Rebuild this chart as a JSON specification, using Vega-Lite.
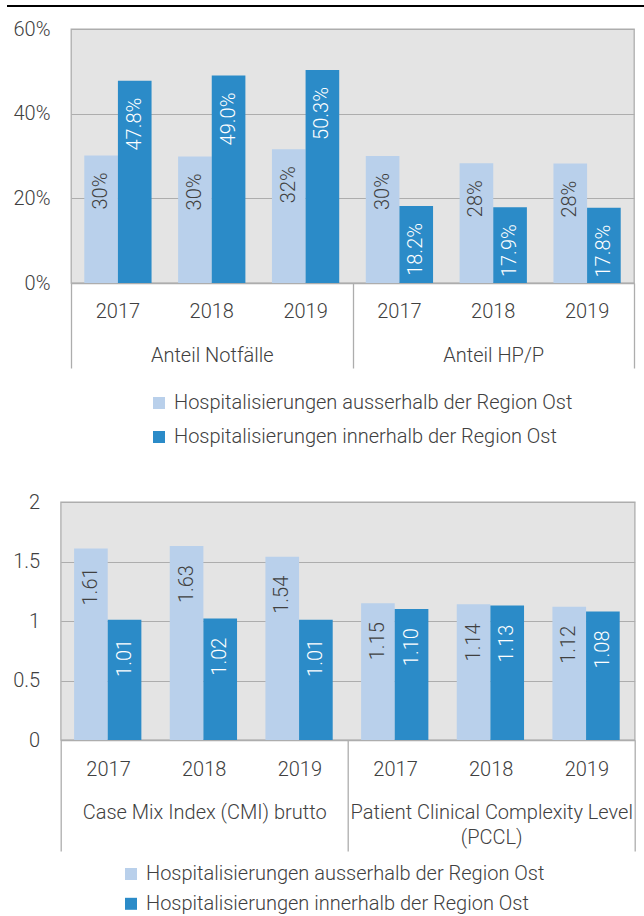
{
  "$schema": "https://vega.github.io/schema/vega-lite/v6.json",
  "background": "white",
  "padding": {"left": 6, "top": 5, "right": 0, "bottom": 0},
  "datasets": {
    "top": [
      {"cat": "Anteil Notfälle", "slot": "Anteil Notfälle 2017", "series": "Hospitalisierungen ausserhalb der Region Ost", "value": 0.301},
      {"cat": "Anteil Notfälle", "slot": "Anteil Notfälle 2017", "series": "Hospitalisierungen innerhalb der Region Ost", "value": 0.478},
      {"cat": "Anteil Notfälle", "slot": "Anteil Notfälle 2018", "series": "Hospitalisierungen ausserhalb der Region Ost", "value": 0.299},
      {"cat": "Anteil Notfälle", "slot": "Anteil Notfälle 2018", "series": "Hospitalisierungen innerhalb der Region Ost", "value": 0.490},
      {"cat": "Anteil Notfälle", "slot": "Anteil Notfälle 2019", "series": "Hospitalisierungen ausserhalb der Region Ost", "value": 0.316},
      {"cat": "Anteil Notfälle", "slot": "Anteil Notfälle 2019", "series": "Hospitalisierungen innerhalb der Region Ost", "value": 0.503},
      {"cat": "Anteil HP/P", "slot": "Anteil HP/P 2017", "series": "Hospitalisierungen ausserhalb der Region Ost", "value": 0.300},
      {"cat": "Anteil HP/P", "slot": "Anteil HP/P 2017", "series": "Hospitalisierungen innerhalb der Region Ost", "value": 0.182},
      {"cat": "Anteil HP/P", "slot": "Anteil HP/P 2018", "series": "Hospitalisierungen ausserhalb der Region Ost", "value": 0.283},
      {"cat": "Anteil HP/P", "slot": "Anteil HP/P 2018", "series": "Hospitalisierungen innerhalb der Region Ost", "value": 0.179},
      {"cat": "Anteil HP/P", "slot": "Anteil HP/P 2019", "series": "Hospitalisierungen ausserhalb der Region Ost", "value": 0.282},
      {"cat": "Anteil HP/P", "slot": "Anteil HP/P 2019", "series": "Hospitalisierungen innerhalb der Region Ost", "value": 0.178}
    ],
    "bottom": [
      {"cat": "Case Mix Index (CMI) brutto", "slot": "CMI 2017", "series": "Hospitalisierungen ausserhalb der Region Ost", "value": 1.61},
      {"cat": "Case Mix Index (CMI) brutto", "slot": "CMI 2017", "series": "Hospitalisierungen innerhalb der Region Ost", "value": 1.01},
      {"cat": "Case Mix Index (CMI) brutto", "slot": "CMI 2018", "series": "Hospitalisierungen ausserhalb der Region Ost", "value": 1.63},
      {"cat": "Case Mix Index (CMI) brutto", "slot": "CMI 2018", "series": "Hospitalisierungen innerhalb der Region Ost", "value": 1.02},
      {"cat": "Case Mix Index (CMI) brutto", "slot": "CMI 2019", "series": "Hospitalisierungen ausserhalb der Region Ost", "value": 1.54},
      {"cat": "Case Mix Index (CMI) brutto", "slot": "CMI 2019", "series": "Hospitalisierungen innerhalb der Region Ost", "value": 1.01},
      {"cat": "Patient Clinical Complexity Level (PCCL)", "slot": "PCCL 2017", "series": "Hospitalisierungen ausserhalb der Region Ost", "value": 1.15},
      {"cat": "Patient Clinical Complexity Level (PCCL)", "slot": "PCCL 2017", "series": "Hospitalisierungen innerhalb der Region Ost", "value": 1.10},
      {"cat": "Patient Clinical Complexity Level (PCCL)", "slot": "PCCL 2018", "series": "Hospitalisierungen ausserhalb der Region Ost", "value": 1.14},
      {"cat": "Patient Clinical Complexity Level (PCCL)", "slot": "PCCL 2018", "series": "Hospitalisierungen innerhalb der Region Ost", "value": 1.13},
      {"cat": "Patient Clinical Complexity Level (PCCL)", "slot": "PCCL 2019", "series": "Hospitalisierungen ausserhalb der Region Ost", "value": 1.12},
      {"cat": "Patient Clinical Complexity Level (PCCL)", "slot": "PCCL 2019", "series": "Hospitalisierungen innerhalb der Region Ost", "value": 1.08}
    ],
    "line": [{"a": 0, "b": 1}],
    "empty": []
  },
  "spacing": 11,
  "vconcat": [
    {
      "width": 638,
      "height": 1,
      "view": {"fill": null, "stroke": null},
      "data": {"name": "line"},
      "mark": {"type": "rule", "color": "black", "strokeWidth": 2},
      "encoding": {
        "x": {"field": "a", "type": "quantitative", "scale": {"domain": [0, 1]}, "axis": null},
        "x2": {"field": "b"},
        "y": {"datum": 0, "type": "quantitative", "scale": {"domain": [0, 1]}, "axis": null}
      }
    },
    {
      "spacing": 44,
      "resolve": {"scale": {"color": "independent"}, "legend": {"color": "independent"}},
      "vconcat": [
        {
          "spacing": 63,
          "bounds": "flush",
          "hconcat": [
            {
              "width": 1,
              "height": 1,
              "view": {"fill": null, "stroke": null},
              "data": {"name": "empty"},
              "mark": {"type": "point", "opacity": 0}
            },
            {
              "width": 563,
              "height": 254,
              "data": {"name": "top"},
              "resolve": {"scale": {"x": "independent"}, "axis": {"x": "independent"}},
              "layer": [
                {
                  "encoding": {
                    "x": {"field": "slot", "type": "nominal", "sort": null, "title": null,
                      "scale": {"type": "band", "paddingInner": 0.283, "paddingOuter": 0.1415},
                      "axis": {"orient": "bottom", "labelExpr": "slice(datum.value, -4)", "labelAngle": 0, "ticks": false, "labelPadding": 18, "domainColor": "#ADADAD", "domainWidth": 1.3, "grid": false}},
                    "xOffset": {"field": "series", "type": "nominal", "scale": {"domain": ["Hospitalisierungen ausserhalb der Region Ost", "Hospitalisierungen innerhalb der Region Ost"], "paddingInner": 0, "paddingOuter": 0}},
                    "y": {"field": "value", "type": "quantitative", "title": null,
                      "scale": {"domain": [0, 0.6]},
                      "axis": {"format": ".0%", "values": [0, 0.2, 0.4, 0.6], "ticks": false, "domain": false, "labelPadding": 21, "grid": true, "gridColor": "#ADADAD", "gridWidth": 1.2}}
                  },
                  "layer": [
                    {
                      "mark": {"type": "bar"},
                      "encoding": {
                        "color": {"field": "series", "type": "nominal",
                          "scale": {"domain": ["Hospitalisierungen ausserhalb der Region Ost", "Hospitalisierungen innerhalb der Region Ost"], "range": ["#B9D0EB", "#2B8BC8"]},
                          "legend": {"orient": "none", "legendX": 142, "legendY": 364, "direction": "vertical", "title": null, "symbolType": "square", "symbolSize": 144, "symbolStrokeWidth": 0, "labelOffset": 5, "rowPadding": 14, "labelLimit": 0}}
                      }
                    },
                    {
                      "transform": [{"filter": "datum.series == 'Hospitalisierungen ausserhalb der Region Ost'"}],
                      "mark": {"type": "text", "angle": 270, "align": "right", "baseline": "middle", "dx": -17, "fontSize": 20, "font": "Roboto", "fontWeight": 300, "color": "#404040"},
                      "encoding": {"text": {"field": "value", "type": "quantitative", "format": ".0%"}}
                    },
                    {
                      "transform": [{"filter": "datum.series == 'Hospitalisierungen innerhalb der Region Ost'"}],
                      "mark": {"type": "text", "angle": 270, "align": "right", "baseline": "middle", "dx": -17, "fontSize": 20, "font": "Roboto", "fontWeight": 300, "color": "white"},
                      "encoding": {"text": {"field": "value", "type": "quantitative", "format": ".1%"}}
                    }
                  ]
                },
                {
                  "mark": {"type": "rule", "opacity": 0},
                  "encoding": {
                    "x": {"field": "cat", "type": "nominal", "sort": null, "title": null,
                      "scale": {"type": "band", "paddingInner": 0, "paddingOuter": 0},
                      "axis": {"orient": "bottom", "tickBand": "extent", "tickSize": 85, "tickColor": "#ADADAD", "tickWidth": 1.3, "domain": false, "labelAngle": 0, "labelPadding": -23, "grid": false}}
                  }
                }
              ]
            }
          ]
        },
        {
          "spacing": 52.7,
          "bounds": "flush",
          "hconcat": [
            {
              "width": 1,
              "height": 1,
              "view": {"fill": null, "stroke": null},
              "data": {"name": "empty"},
              "mark": {"type": "point", "opacity": 0}
            },
            {
              "width": 574,
              "height": 238,
              "data": {"name": "bottom"},
              "resolve": {"scale": {"x": "independent"}, "axis": {"x": "independent"}},
              "layer": [
                {
                  "encoding": {
                    "x": {"field": "slot", "type": "nominal", "sort": null, "title": null,
                      "scale": {"type": "band", "paddingInner": 0.28, "paddingOuter": 0.14},
                      "axis": {"orient": "bottom", "labelExpr": "slice(datum.value, -4)", "labelAngle": 0, "ticks": false, "labelPadding": 19, "domainColor": "#ADADAD", "domainWidth": 1.3, "grid": false}},
                    "xOffset": {"field": "series", "type": "nominal", "scale": {"domain": ["Hospitalisierungen ausserhalb der Region Ost", "Hospitalisierungen innerhalb der Region Ost"], "paddingInner": 0, "paddingOuter": 0}},
                    "y": {"field": "value", "type": "quantitative", "title": null,
                      "scale": {"domain": [0, 2]},
                      "axis": {"format": "~g", "values": [0, 0.5, 1, 1.5, 2], "ticks": false, "domain": false, "labelPadding": 21, "grid": true, "gridColor": "#ADADAD", "gridWidth": 1.2}}
                  },
                  "layer": [
                    {
                      "mark": {"type": "bar"},
                      "encoding": {
                        "color": {"field": "series", "type": "nominal",
                          "scale": {"domain": ["Hospitalisierungen ausserhalb der Region Ost", "Hospitalisierungen innerhalb der Region Ost"], "range": ["#B9D0EB", "#2B8BC8"]},
                          "legend": {"orient": "none", "legendX": 114, "legendY": 362, "direction": "vertical", "title": null, "symbolType": "square", "symbolSize": 144, "symbolStrokeWidth": 0, "labelOffset": 5, "rowPadding": 9.8, "labelLimit": 0}}
                      }
                    },
                    {
                      "transform": [{"filter": "datum.series == 'Hospitalisierungen ausserhalb der Region Ost'"}],
                      "mark": {"type": "text", "angle": 270, "align": "right", "baseline": "middle", "dx": -19, "fontSize": 20, "font": "Roboto", "fontWeight": 300, "color": "#404040"},
                      "encoding": {"text": {"field": "value", "type": "quantitative", "format": ".2f"}}
                    },
                    {
                      "transform": [{"filter": "datum.series == 'Hospitalisierungen innerhalb der Region Ost'"}],
                      "mark": {"type": "text", "angle": 270, "align": "right", "baseline": "middle", "dx": -19, "fontSize": 20, "font": "Roboto", "fontWeight": 300, "color": "white"},
                      "encoding": {"text": {"field": "value", "type": "quantitative", "format": ".2f"}}
                    }
                  ]
                },
                {
                  "mark": {"type": "rule", "opacity": 0},
                  "encoding": {
                    "x": {"field": "cat", "type": "nominal", "sort": null, "title": null,
                      "scale": {"type": "band", "paddingInner": 0, "paddingOuter": 0},
                      "axis": {"orient": "bottom", "tickBand": "extent", "tickSize": 111, "tickColor": "#ADADAD", "tickWidth": 1.3, "domain": false, "labelAngle": 0, "labelPadding": -49, "labelLineHeight": 25, "labelExpr": "datum.value == 'Patient Clinical Complexity Level (PCCL)' ? ['Patient Clinical Complexity Level', '(PCCL)'] : datum.value", "grid": false}}
                  }
                }
              ]
            }
          ]
        }
      ]
    }
  ],
  "config": {
    "view": {"fill": "#E4E4E4", "stroke": "#ADADAD", "strokeWidth": 1.3},
    "axis": {"labelFont": "Roboto", "labelFontWeight": 300, "labelFontSize": 20, "labelColor": "#404040", "labelLimit": 0},
    "legend": {"labelFont": "Roboto", "labelFontWeight": 300, "labelFontSize": 20, "labelColor": "#404040"},
    "bar": {"stroke": null}
  }
}
